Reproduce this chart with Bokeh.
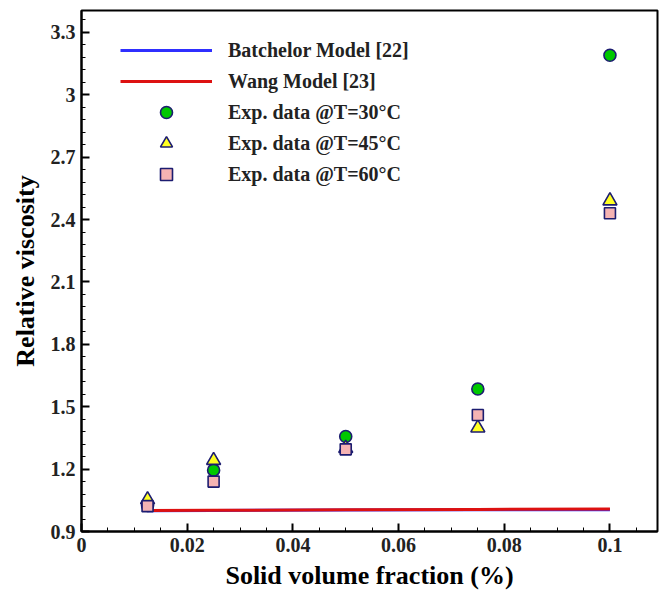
from bokeh.plotting import figure
from bokeh.models import Range1d, FixedTicker, CustomJSTickFormatter, Legend, LegendItem
from bokeh.embed import file_html
from bokeh.resources import INLINE

# ---- data ----
phi = [0.0125, 0.025, 0.05, 0.075, 0.1]
batchelor = [1.000, 1.001, 1.003, 1.004, 1.005]
wang = [1.001, 1.002, 1.004, 1.006, 1.008]
exp_30 = [1.025, 1.195, 1.357, 1.585, 3.19]
exp_45 = [1.053, 1.242, 1.300, 1.398, 2.49]
exp_60 = [1.022, 1.140, 1.295, 1.460, 2.43]

x_ticks = [0, 0.02, 0.04, 0.06, 0.08, 0.1]
y_ticks = [0.9, 1.2, 1.5, 1.8, 2.1, 2.4, 2.7, 3.0, 3.3]

series_labels = ["Batchelor Model [22]", "Wang Model [23]",
                 "Exp. data @T=30°C", "Exp. data @T=45°C", "Exp. data @T=60°C"]

FONT = "Liberation Serif"
EDGE = "#1c1c70"

p = figure(width=659, height=592, output_backend="svg", toolbar_location=None,
           x_range=Range1d(0, 0.109), y_range=Range1d(0.9, 3.405),
           min_border_left=81, min_border_right=2, min_border_top=10, min_border_bottom=58)

p.xgrid.visible = False
p.ygrid.visible = False
p.outline_line_color = "black"
p.outline_line_width = 2
p.outline_line_alpha = 1.0
p.background_fill_color = "white"
p.border_fill_color = "white"

r_b = p.line(phi, batchelor, line_color="#2f2fff", line_width=3)
r_w = p.line(phi, wang, line_color="#dd1111", line_width=3)
r30 = p.scatter(phi, exp_30, marker="circle", size=12, fill_color="#00c800",
                line_color=EDGE, line_width=1.6)
r45 = p.scatter(phi, exp_45, marker="triangle", size=14, fill_color="#ffff22",
                line_color=EDGE, line_width=1.6)
r60 = p.scatter(phi, exp_60, marker="square", size=11, fill_color="#f5b3b3",
                line_color=EDGE, line_width=1.6)

# ticks
x_minor = [i * 0.005 for i in range(0, 22)]
y_minor = [0.9 + i * 0.06 for i in range(0, 42)]
p.xaxis.ticker = FixedTicker(ticks=x_ticks, minor_ticks=x_minor)
p.yaxis.ticker = FixedTicker(ticks=y_ticks, minor_ticks=y_minor)
p.xaxis.formatter = CustomJSTickFormatter(code="return String(Math.round(tick*1000)/1000);")
p.yaxis.formatter = CustomJSTickFormatter(code="return String(Math.round(tick*1000)/1000);")

for ax in (p.xaxis[0], p.yaxis[0]):
    ax.axis_line_width = 2
    ax.axis_line_color = "black"
    ax.major_tick_in = 8
    ax.major_tick_out = 0
    ax.minor_tick_in = 4
    ax.minor_tick_out = 0
    ax.major_tick_line_width = 2
    ax.minor_tick_line_width = 1
    ax.major_tick_line_color = "black"
    ax.minor_tick_line_color = "black"
    ax.major_label_text_font = FONT
    ax.major_label_text_font_style = "bold"
    ax.major_label_text_font_size = "20px"
    ax.major_label_text_color = "#222222"
    ax.axis_label_text_font = FONT
    ax.axis_label_text_font_style = "bold"
    ax.axis_label_text_font_size = "26px"
    ax.axis_label_text_color = "black"

p.xaxis.axis_label = "Solid volume fraction (%)"
p.yaxis.axis_label = "Relative viscosity"
p.xaxis.major_label_standoff = 6
p.xaxis.axis_label_standoff = 6
p.yaxis.major_label_standoff = 6
p.yaxis.axis_label_standoff = 8

legend = Legend(items=[
    LegendItem(label=series_labels[0], renderers=[r_b]),
    LegendItem(label=series_labels[1], renderers=[r_w]),
    LegendItem(label=series_labels[2], renderers=[r30]),
    LegendItem(label=series_labels[3], renderers=[r45]),
    LegendItem(label=series_labels[4], renderers=[r60]),
], location=(39, 342))
legend.border_line_color = None
legend.background_fill_alpha = 0
legend.padding = 0
legend.margin = 0
legend.spacing = 1
legend.glyph_width = 92
legend.glyph_height = 30
legend.label_height = 30
legend.label_standoff = 16
legend.label_text_font = FONT
legend.label_text_font_style = "bold"
legend.label_text_font_size = "20px"
legend.label_text_color = "#222222"
p.add_layout(legend, "center")

open("out.html", "w").write(file_html(p, INLINE))
